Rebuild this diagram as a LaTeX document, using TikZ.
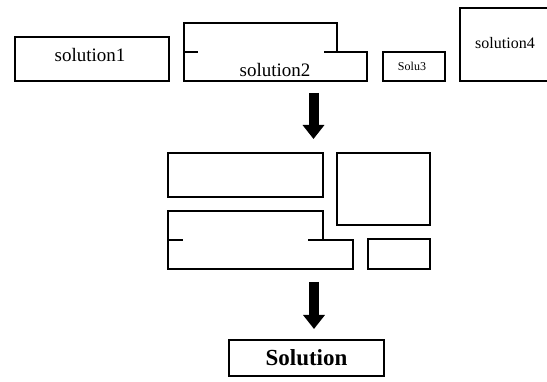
\documentclass[tikz,border=0pt]{standalone}
\usepackage{fontspec}
\setmainfont{Liberation Serif}
\usetikzlibrary{arrows.meta}
\tikzset{
  boxline/.style={draw=black, line width=1.6pt, line join=miter},
  box/.style={boxline, rectangle, inner sep=0pt},
  lbl/.style={inner sep=0pt, font=\fontsize{19}{19}\selectfont},
  bigarrow/.style={line width=10pt, -{Triangle[width=21pt,length=14pt]}}
}
\begin{document}
\begin{tikzpicture}[x=1pt,y=-1pt]
\useasboundingbox (0,0) rectangle (547,382);
% top row
\node[box, minimum width=154pt, minimum height=44pt] (s1) at (92,59) {};
\node[lbl] (t1) at (90,55) {solution1};
\draw[boxline] (184,23) -- (337,23) -- (337,52) -- (367,52) -- (367,81) -- (184,81) -- cycle;
\draw[boxline] (184,52) -- (198,52);
\draw[boxline] (324,52) -- (337,52);
\node[lbl] (t2) at (275,70) {solution2};
\node[box, minimum width=62pt, minimum height=29pt] (s3) at (414,66.5) {};
\node[lbl, font=\fontsize{12}{12}\selectfont] (t3) at (412,66) {Solu3};
\draw[boxline] (548,8) -- (460,8) -- (460,81) -- (548,81);
\node[lbl, font=\fontsize{16}{16}\selectfont] (t4) at (505,43) {solution4};
% first arrow
\coordinate (a1s) at (313.5,93);
\coordinate (a1e) at (313.5,139);
\draw[bigarrow] (a1s) -- (a1e);
% middle arrangement
\node[box, minimum width=155pt, minimum height=44pt] (m1) at (245.5,175) {};
\node[box, minimum width=93pt, minimum height=72pt] (m2) at (383.5,189) {};
\draw[boxline] (168,211) -- (323,211) -- (323,240) -- (353,240) -- (353,269) -- (168,269) -- cycle;
\draw[boxline] (168,240) -- (183,240);
\draw[boxline] (308,240) -- (323,240);
\node[box, minimum width=62pt, minimum height=30pt] (m4) at (399,254) {};
% second arrow
\coordinate (a2s) at (314,282);
\coordinate (a2e) at (314,329);
\draw[bigarrow] (a2s) -- (a2e);
% result
\node[box, minimum width=155pt, minimum height=36pt] (sol) at (306.5,358) {};
\node[lbl, font=\fontsize{23}{23}\bfseries\selectfont] (ts) at (306.5,358) {Solution};
\end{tikzpicture}
\end{document}
